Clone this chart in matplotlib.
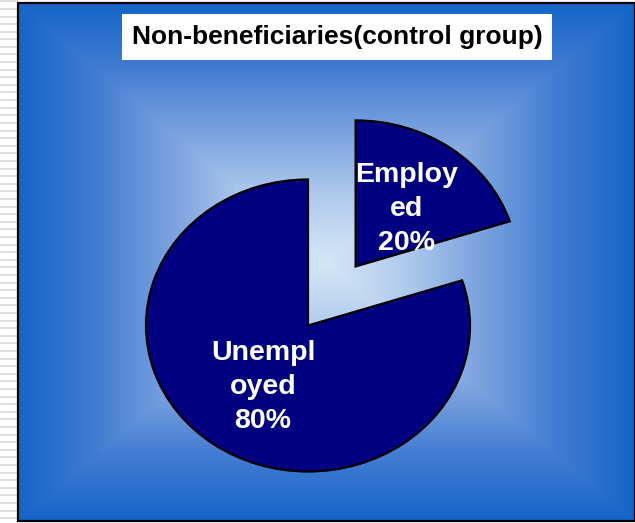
import matplotlib

matplotlib.use("Agg")
import matplotlib.pyplot as plt
import numpy as np
from matplotlib.colors import LinearSegmentedColormap
from matplotlib.patches import Rectangle

# data
categories = ["Employed", "Unemployed"]
shares = [20, 80]
label_lines = ["Employ\ned\n20%", "Unempl\noyed\n80%"]
title = "Non-beneficiaries(control group)"

W, H = 635, 523
fig = plt.figure(figsize=(W / 100, H / 100), dpi=100)
fig.patch.set_facecolor("white")

# spreadsheet stripes on the left
strip = fig.add_axes([0, 0, 18 / W, 1])
strip.set_xlim(0, 1)
strip.set_ylim(H, 0)
strip.axis("off")
for y in np.arange(0.5, H, 7.6):
    strip.axhline(y + 0.8, color="#dcdcdc", linewidth=1.3)

# chart area in pixel terms
left, right, top, bottom = 18, 635, 3, 521
cx, cy = 308, H - 325.5  # pie centre (px from bottom)
rx, ry = 162, 146  # pixels per unit radius

ax = fig.add_axes([left / W, (H - bottom) / H, (right - left) / W, (bottom - top) / H])
x0, x1 = (left - cx) / rx, (right - cx) / rx
y0, y1 = ((H - bottom) - cy) / ry, ((H - top) - cy) / ry

# rectangular "from centre" gradient
nx, ny = 400, 340
gx = np.linspace(-1, 1, nx)
gy = np.linspace(-1, 1, ny)
GX, GY = np.meshgrid(gx, gy)
t = np.maximum(np.abs(GX), np.abs(GY))
cmap = LinearSegmentedColormap.from_list(
    "bg", ["#d4e6f6", "#b0cbec", "#7ba2df", "#427cd2", "#1565c8"]
)
ax.imshow(t, cmap=cmap, extent=(x0, x1, y0, y1), aspect="auto", origin="lower",
          interpolation="bilinear", zorder=0)

wedges, _ = ax.pie(
    shares,
    explode=[0.5, 0],
    startangle=90,
    counterclock=False,
    colors=["#000080", "#000080"],
    wedgeprops=dict(edgecolor="black", linewidth=1.6),
    radius=1,
)
for w in wedges:
    w.set_zorder(2)

ax.set_aspect("auto")
ax.set_xlim(x0, x1)
ax.set_ylim(y0, y1)
ax.axis("off")

# labels
label_px = [(407, 209), (263, 387)]
for text, (px, py) in zip(label_lines, label_px):
    ax.text((px - cx) / rx, ((H - py) - cy) / ry, text, color="white",
            fontsize=20.5, fontweight="bold", family="Liberation Sans",
            ha="center", va="center", linespacing=1.38, zorder=3)

# frame border
ax.add_patch(Rectangle((0, 0), 1, 1, transform=ax.transAxes, fill=False,
                       edgecolor="black", linewidth=1.6, zorder=5, clip_on=False))

# title box
ax.add_patch(Rectangle((122, H - 60), 430, 46, transform=None, facecolor="white",
                       edgecolor="none", zorder=4))
fig.text(337 / W, (H - 37) / H, title, fontsize=19, fontweight="bold",
         family="Liberation Sans", ha="center", va="center", zorder=6)

fig.savefig("out.png", dpi=100)
